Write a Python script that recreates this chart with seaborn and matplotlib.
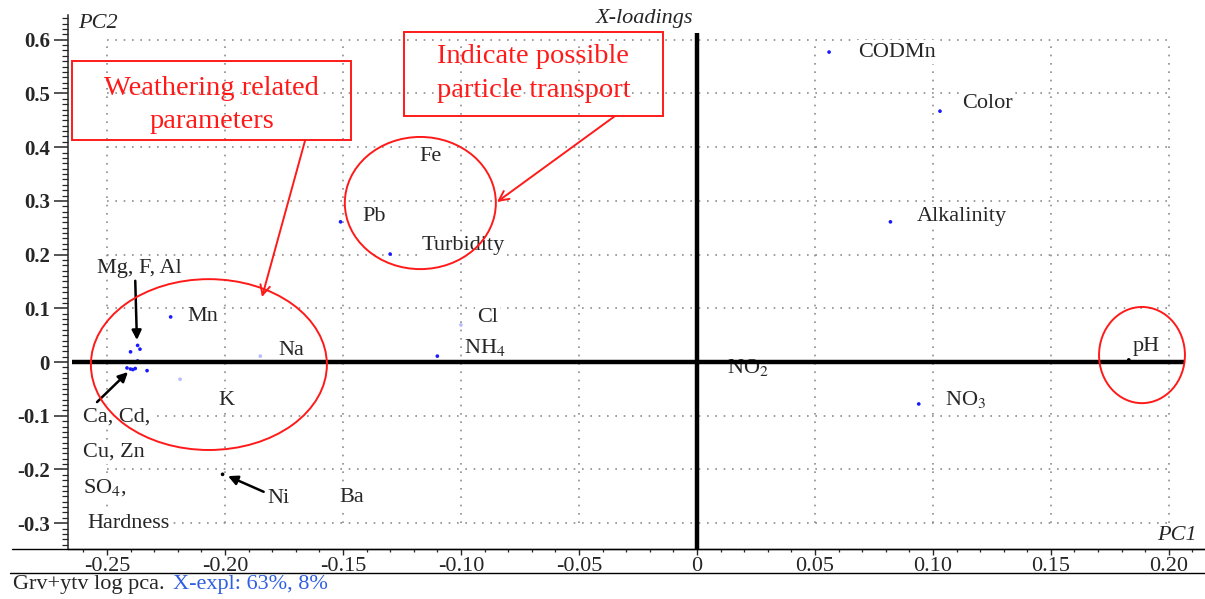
import numpy as np
import pandas as pd
import seaborn as sns
import matplotlib.pyplot as plt
from matplotlib.patches import Ellipse, Rectangle
from matplotlib.lines import Line2D
from matplotlib.ticker import MultipleLocator

# loadings
names = ['CODMn', 'Color', 'Alkalinity', 'NO$_3$', 'pH', 'NO$_2$', 'Fe', 'Pb',
         'Turbidity', 'Cl', 'NH$_4$', 'Na', 'Mn', 'K', 'Ba', 'Ni']
pc1 = [0.056, 0.103, 0.082, 0.094, 0.183, 0.003, -0.128, -0.151,
       -0.130, -0.100, -0.110, -0.185, -0.223, -0.219, -0.162, -0.201]
pc2 = [0.577, 0.467, 0.261, -0.078, 0.004, 0.000, 0.376, 0.261,
       0.201, 0.069, 0.011, 0.011, 0.084, -0.032, -0.257, -0.209]
kind = ['blue', 'blue', 'blue', 'blue', 'black', 'hidden', 'hidden', 'blue',
        'blue', 'faint', 'blue', 'faint', 'blue', 'faint', 'hidden', 'black']

# the unlabeled cluster on the left
cluster = ['Mg', 'F', 'Al', 'Ca', 'Cd', 'Cu', 'Zn', 'SO4', 'Hardness']
cluster_pc1 = [-0.240, -0.237, -0.236, -0.237, -0.2415, -0.240, -0.233, -0.238, -0.239]
cluster_pc2 = [0.019, 0.031, 0.024, 0.002, -0.011, -0.013, -0.016, -0.012, -0.014]

xticks = [-0.25, -0.20, -0.15, -0.10, -0.05, 0, 0.05, 0.10, 0.15, 0.20]
xticklabels = ['-0.25', '-0.20', '-0.15', '-0.10', '-0.05', '0', '0.05', '0.10', '0.15', '0.20']
yticks = [-0.3, -0.2, -0.1, 0, 0.1, 0.2, 0.3, 0.4, 0.5, 0.6]
yticklabels = ['-0.3', '-0.2', '-0.1', '0', '0.1', '0.2', '0.3', '0.4', '0.5', '0.6']

# label offsets in pixels (dx, dy)
offsets = [(29, 0), (22, 8), (26, 5), (26, 4), (4, 13), (23, -5), (25, 4), (22, 5),
           (31, 9), (16, 7), (27, 9), (18, 6), (17, 0), (38, -21), (25, 3), None]

df = pd.DataFrame({'name': names + cluster,
                   'pc1': pc1 + cluster_pc1,
                   'pc2': pc2 + cluster_pc2,
                   'kind': kind + ['blue'] * len(cluster)})

sns.set_style('white')
plt.rcParams['font.family'] = ['Liberation Serif', 'DejaVu Serif']
plt.rcParams['mathtext.fontset'] = 'stix'

fig = plt.figure(figsize=(12.05, 5.99), dpi=100)
W, H = 1205, 599
ax = fig.add_axes([68 / W, 50 / H, (W - 68) / W, 534 / H])

pal = {'blue': '#1a1aff', 'black': 'black', 'faint': '#b8bcff', 'hidden': 'white'}
sns.scatterplot(data=df, x='pc1', y='pc2', hue='kind', palette=pal, s=7,
                linewidth=0, legend=False, ax=ax, zorder=2.5)

ax.set_xlim(-0.2665, 0.2153)
ax.set_ylim(-0.348, 0.646)
ax.set_xlabel('')
ax.set_ylabel('')

# dotted grid box
ax.hlines(yticks, xticks[0], xticks[-1], colors='#8c8c8c', linestyles=(0, (1, 4)),
          linewidth=1.2, zorder=0.5)
ax.vlines(xticks, yticks[0], yticks[-1], colors='#8c8c8c', linestyles=(0, (1, 4)),
          linewidth=1.2, zorder=0.5)

# thick zero lines
ax.plot([-0.265, 0.207], [0, 0], color='black', lw=3.2, zorder=3, solid_capstyle='butt')
ax.plot([0, 0], [-0.348, 0.613], color='black', lw=3.2, zorder=3, solid_capstyle='butt')

for sp in ['top', 'right']:
    ax.spines[sp].set_visible(False)
ax.spines['left'].set_linewidth(1.1)
ax.spines['bottom'].set_linewidth(1.0)

ax.set_xticks(xticks)
ax.set_xticklabels(xticklabels, fontsize=16)
ax.set_yticks(yticks)
ax.set_yticklabels(yticklabels, fontsize=15, fontweight='bold')
ax.xaxis.set_minor_locator(MultipleLocator(0.01))
ax.yaxis.set_minor_locator(MultipleLocator(0.01))
ax.tick_params(axis='y', which='major', direction='out', length=10, width=1.1, pad=3, left=True)
ax.tick_params(axis='y', which='minor', direction='out', length=4.5, width=0.9, left=True)
ax.tick_params(axis='x', which='major', direction='out', length=4, width=1.0, pad=1.5, bottom=True)
ax.tick_params(axis='x', which='minor', direction='out', length=2.5, width=0.9, bottom=True)

# point labels
for n, x, y, off in zip(names, pc1, pc2, offsets):
    if off is None:
        continue
    ax.annotate(n, (x, y), xytext=off, textcoords='offset pixels', ha='left', va='center',
                fontsize=16, zorder=2,
                bbox=dict(boxstyle='square,pad=0.1', fc='white', ec='none'))

# Ni with arrow
ax.annotate('Ni', xy=(-0.1987, -0.2123), xytext=(-0.1822, -0.2533), fontsize=16,
            ha='left', va='center', zorder=5,
            arrowprops=dict(arrowstyle='-|>', color='black', lw=1.8, mutation_scale=14,
                            shrinkA=0, shrinkB=0))

# cluster labels
ax.annotate('Mg, F, Al', xy=(-0.2373, 0.041), xytext=(-0.2542, 0.175), fontsize=16,
            ha='left', va='center', zorder=5,
            arrowprops=dict(arrowstyle='-|>', color='black', lw=1.8, mutation_scale=14,
                            shrinkA=0, shrinkB=0, relpos=(0.45, 0.0)))
ax.annotate('', xy=(-0.2411, -0.0186), xytext=(-0.2542, -0.0745),
            arrowprops=dict(arrowstyle='-|>', color='black', lw=1.8, mutation_scale=14,
                            shrinkA=0, shrinkB=0), zorder=5)
for txt, x, y in [('Ca, Cd,', -0.2602, -0.1024), ('Cu, Zn', -0.2602, -0.1676),
                  ('SO$_4$,', -0.2602, -0.2328), ('Hardness', -0.2581, -0.2998)]:
    ax.text(x, y, txt, fontsize=16, ha='left', va='center', zorder=5,
            bbox=dict(boxstyle='square,pad=0.1', fc='white', ec='none'))

# red annotations
red = '#ff1a1a'
ax.add_patch(Ellipse((-0.2068, -0.0047), 0.1000, 0.318, fill=False, ec=red, lw=1.4, zorder=6))
ax.add_patch(Ellipse((-0.1172, 0.296), 0.064, 0.246, fill=False, ec=red, lw=1.4, zorder=6))
ax.add_patch(Ellipse((0.1886, 0.013), 0.0364, 0.179, fill=False, ec=red, lw=1.4, zorder=6))

ax.add_patch(Rectangle((-0.2648, 0.413), 0.1182, 0.1475, fill=False, ec=red, lw=1.4,
                       zorder=6, clip_on=False))
ax.add_patch(Rectangle((-0.1242, 0.458), 0.1098, 0.1565, fill=False, ec=red, lw=1.4,
                       zorder=6, clip_on=False))
ax.text(-0.2057, 0.4786, 'Weathering related\nparameters', color=red, fontsize=20.5,
        ha='center', va='center', linespacing=1.42, zorder=6)
ax.text(-0.0693, 0.537, 'Indicate possible\nparticle transport', color=red, fontsize=20.5,
        ha='center', va='center', linespacing=1.45, zorder=6)

ax.annotate('', xy=(-0.1843, 0.121), xytext=(-0.166, 0.413),
            arrowprops=dict(arrowstyle='->,head_length=0.7,head_width=0.35', color=red,
                            lw=1.4, shrinkA=0, shrinkB=0), zorder=6)
ax.annotate('', xy=(-0.0847, 0.298), xytext=(-0.0347, 0.458),
            arrowprops=dict(arrowstyle='->,head_length=0.7,head_width=0.35', color=red,
                            lw=1.4, shrinkA=0, shrinkB=0), zorder=6)

# titles and frame extras
fig.text(693 / W, 1 - 18 / H, 'X-loadings', ha='right', va='center', style='italic', fontsize=16)
fig.text(78 / W, 1 - 24 / H, 'PC2', ha='left', va='center', style='italic', fontsize=16)
fig.text(1197 / W, 1 - 536 / H, 'PC1', ha='right', va='center', style='italic', fontsize=16)

fig.add_artist(Line2D([12 / W, 1], [50 / H, 50 / H], color='black', lw=1.0))
fig.add_artist(Line2D([10 / W, 1], [26 / H, 26 / H], color='black', lw=1.0))

fig.text(13 / W, 1 - 585 / H, 'Grv+ytv log pca.', ha='left', va='center', fontsize=16)
fig.text(173 / W, 1 - 585 / H, 'X-expl: 63%, 8%', ha='left', va='center', fontsize=16,
         color='#2f5fe3')

fig.savefig('out.png', dpi=100)
